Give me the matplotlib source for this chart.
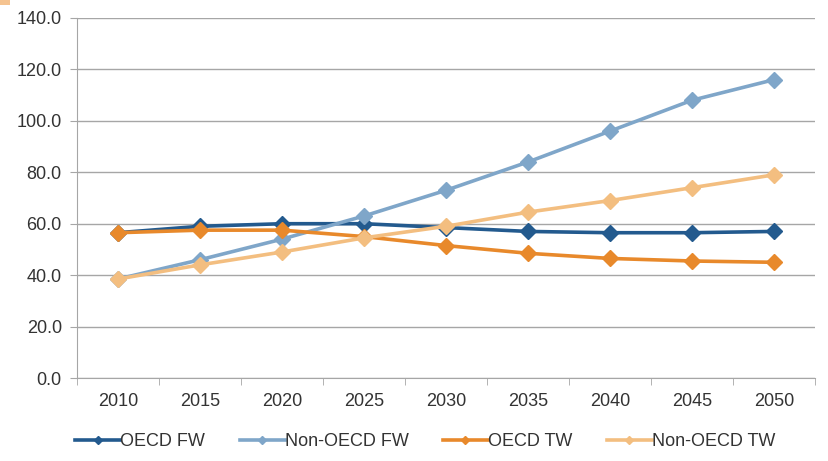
import numpy as np
import matplotlib.pyplot as plt
from matplotlib.patches import Rectangle

plt.rcParams['font.family'] = ['Liberation Sans', 'DejaVu Sans']

years = ['2010', '2015', '2020', '2025', '2030', '2035', '2040', '2045', '2050']
oecd_fw = [56.5, 59.0, 60.0, 60.0, 58.5, 57.0, 56.5, 56.5, 57.0]
non_oecd_fw = [38.5, 46.0, 54.0, 63.0, 73.0, 84.0, 96.0, 108.0, 116.0]
oecd_tw = [56.5, 57.5, 57.5, 55.0, 51.5, 48.5, 46.5, 45.5, 45.0]
non_oecd_tw = [38.5, 44.0, 49.0, 54.5, 59.0, 64.5, 69.0, 74.0, 79.0]

series = [
    ('OECD FW', oecd_fw, '#235a8e'),
    ('Non-OECD FW', non_oecd_fw, '#7fa6c9'),
    ('OECD TW', oecd_tw, '#e8892b'),
    ('Non-OECD TW', non_oecd_tw, '#f3be80'),
]

fig = plt.figure(figsize=(8.29, 4.61), dpi=100)
ax = fig.add_axes([0.093, 0.18, 0.89, 0.781])

# orange corner of the page banner, top left
fig.patches.append(Rectangle((0, 0.99), 0.012, 0.01, transform=fig.transFigure,
                             color='#f5c390', lw=0))

x = np.arange(len(years))
for name, vals, col in series:
    ax.plot(x, vals, color=col, lw=2.6, marker='D', ms=8,
            markeredgecolor=col, label=name, zorder=3)

ax.set_xlim(-0.5, len(years) - 0.5)
ax.set_ylim(0, 140)
ax.set_yticks(np.arange(0, 141, 20))
ax.set_yticklabels([f'{v:.1f}' for v in np.arange(0, 141, 20)])
ax.set_xticks(x)
ax.set_xticklabels(years)
ax.set_xticks(np.arange(-0.5, len(years)), minor=True)

ax.grid(axis='y', color='#a6a6a6', lw=1.0, zorder=0)
ax.tick_params(axis='x', which='major', length=0, pad=11, labelsize=13, labelcolor='#333333')
ax.tick_params(axis='x', which='minor', length=5, color='#a6a6a6')
ax.tick_params(axis='y', length=5, color='#a6a6a6', labelsize=13, labelcolor='#333333', pad=6)

for s in ['top', 'right']:
    ax.spines[s].set_visible(False)
for s in ['left', 'bottom']:
    ax.spines[s].set_color('#a6a6a6')

leg = fig.legend(loc='center', bbox_to_anchor=(0.513, 0.042), ncol=4, frameon=False,
                 fontsize=13, handlelength=2.5, handletextpad=0.0, columnspacing=1.9,
                 markerscale=0.55)
for t in leg.get_texts():
    t.set_color('#333333')

fig.savefig('out.png', dpi=100)
